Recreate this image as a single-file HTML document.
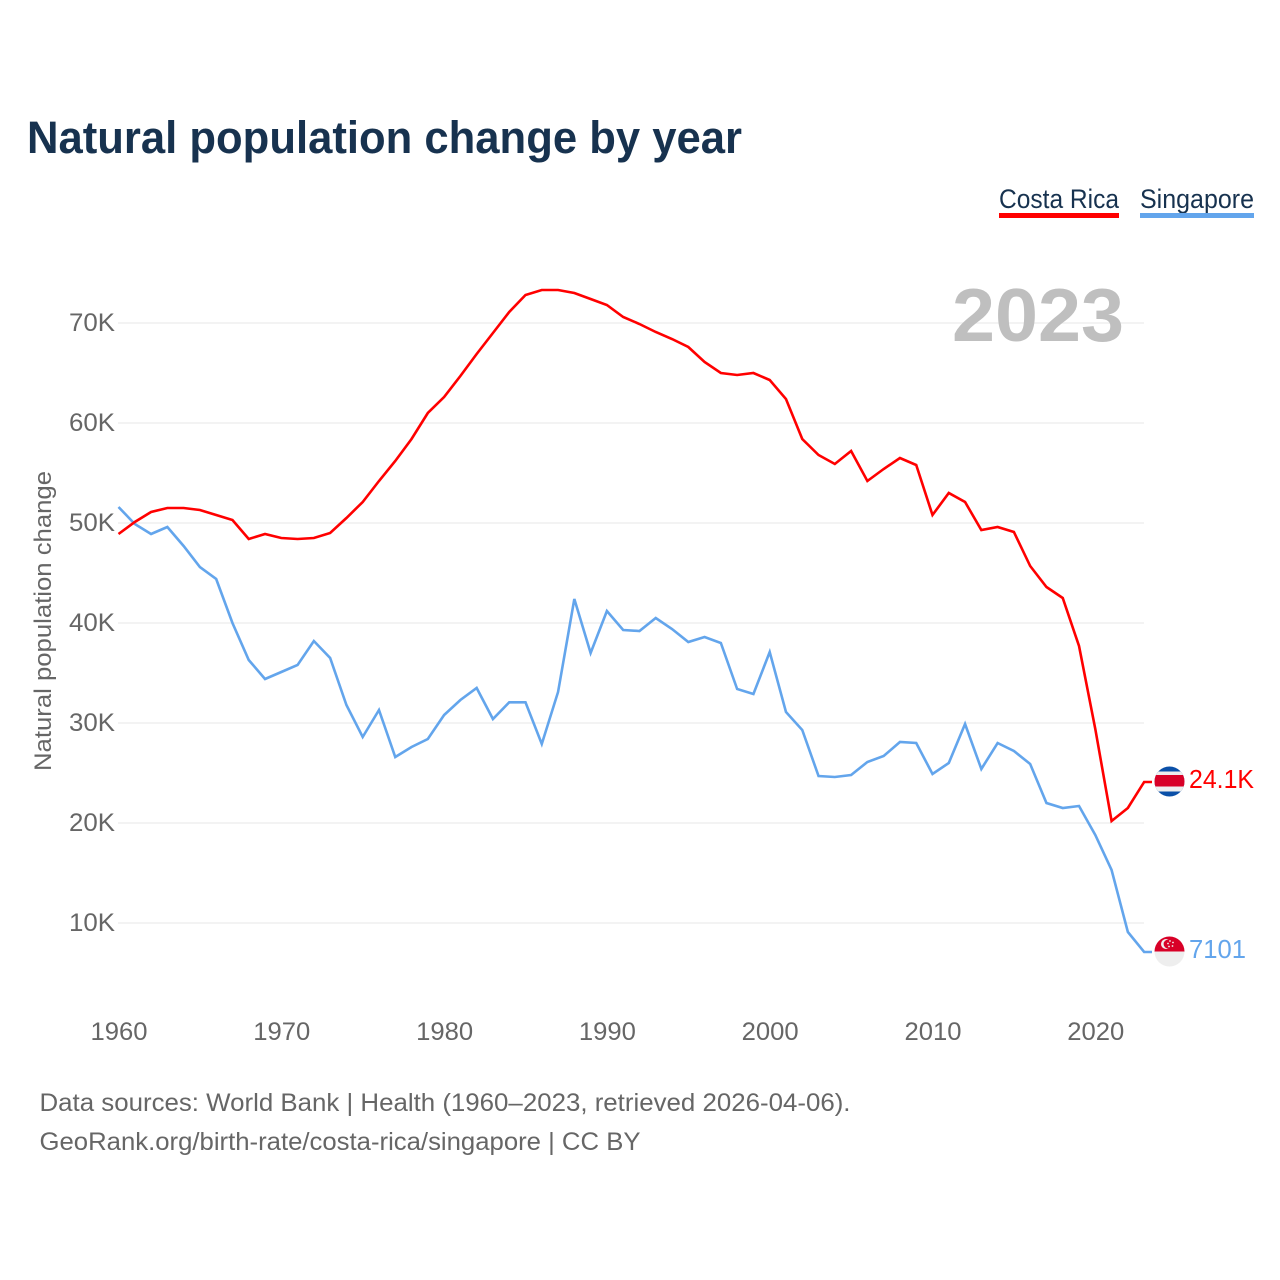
<!DOCTYPE html>
<html lang="en">
<head>
<meta charset="utf-8">
<title>Natural population change by year</title>
<style>
html,body{margin:0;padding:0;background:#fff;width:1280px;height:1280px;overflow:hidden}
svg{display:block;font-family:"Liberation Sans",sans-serif}
</style>
</head>
<body>
<svg id="chart" xmlns="http://www.w3.org/2000/svg" width="1280" height="1280" viewBox="0 0 1280 1280">
  <text x="27" y="153" font-size="45" font-weight="700" fill="#17324f" textLength="715" lengthAdjust="spacingAndGlyphs">Natural population change by year</text>

  <g>
    <text x="999" y="208" font-size="27" fill="#17324f" textLength="120" lengthAdjust="spacingAndGlyphs">Costa Rica</text>
    <rect x="999" y="213" width="120" height="5" fill="#ff0000"/>
    <text x="1140" y="208" font-size="27" fill="#17324f" textLength="114" lengthAdjust="spacingAndGlyphs">Singapore</text>
    <rect x="1140" y="213" width="114" height="5" fill="#63a5ec"/>
  </g>

  <g id="grid"></g>
  <text x="952" y="341" font-size="75" font-weight="700" fill="#bfbfbf" textLength="172" lengthAdjust="spacingAndGlyphs">2023</text>
  <g id="yticks"></g>
  <g id="xticks"></g>
  <text transform="translate(51,771) rotate(-90)" font-size="24" fill="#666666" textLength="300" lengthAdjust="spacingAndGlyphs">Natural population change</text>

  <path id="line-singapore" fill="none" stroke="#63a5ec" stroke-width="2.6" stroke-linejoin="miter"/>
  <path id="line-costa-rica" fill="none" stroke="#ff0000" stroke-width="2.6" stroke-linejoin="miter"/>

  <defs>
    <clipPath id="clip-cr"><circle cx="1169.5" cy="781.5" r="15"/></clipPath>
    <clipPath id="clip-sg"><circle cx="1169.5" cy="951.5" r="15"/></clipPath>
  </defs>

  <g clip-path="url(#clip-cr)">
    <rect x="1154" y="766" width="31" height="32" fill="#0b50a8"/>
    <rect x="1154" y="771.5" width="31" height="20" fill="#eeeeee"/>
    <rect x="1154" y="775" width="31" height="11.5" fill="#d80027"/>
  </g>
  <text id="value-cr" x="1189" y="788" font-size="26" fill="#ff0000" textLength="65" lengthAdjust="spacingAndGlyphs">24.1K</text>

  <g clip-path="url(#clip-sg)">
    <rect x="1154" y="936" width="31" height="16" fill="#d80027"/>
    <rect x="1154" y="951.5" width="31" height="16" fill="#eeeeee"/>
    <circle cx="1166" cy="944" r="5" fill="#eeeeee"/>
    <circle cx="1168" cy="944" r="4.4" fill="#d80027"/>
    <circle cx="1170" cy="941" r="0.9" fill="#eeeeee"/>
    <circle cx="1173" cy="942.5" r="0.9" fill="#eeeeee"/>
    <circle cx="1172.5" cy="946" r="0.9" fill="#eeeeee"/>
    <circle cx="1169" cy="946.5" r="0.9" fill="#eeeeee"/>
    <circle cx="1168" cy="943.5" r="0.9" fill="#eeeeee"/>
  </g>
  <text id="value-sg" x="1189" y="958" font-size="26" fill="#63a5ec" textLength="57" lengthAdjust="spacingAndGlyphs">7101</text>

  <text x="39.5" y="1111" font-size="25" fill="#666666" textLength="811" lengthAdjust="spacingAndGlyphs">Data sources: World Bank | Health (1960–2023, retrieved 2026-04-06).</text>
  <text x="39.5" y="1150" font-size="25" fill="#666666" textLength="601" lengthAdjust="spacingAndGlyphs">GeoRank.org/birth-rate/costa-rica/singapore | CC BY</text>
</svg>
<script>
const startYear = 1960;
const costaRica = [48.9,50.1,51.1,51.5,51.5,51.3,50.8,50.3,48.4,48.9,48.5,48.4,48.5,49.0,50.5,52.1,54.2,56.2,58.4,61.0,62.6,64.7,66.9,69.0,71.1,72.8,73.3,73.3,73.0,72.4,71.8,70.6,69.9,69.1,68.4,67.6,66.1,65.0,64.8,65.0,64.3,62.4,58.4,56.8,55.9,57.2,54.2,55.4,56.5,55.8,50.8,53.0,52.1,49.3,49.6,49.1,45.7,43.6,42.5,37.7,29.4,20.2,21.5,24.1];
const singapore = [51.6,49.9,48.9,49.6,47.7,45.6,44.4,40.0,36.3,34.4,35.1,35.8,38.2,36.5,31.8,28.6,31.3,26.6,27.6,28.4,30.8,32.3,33.5,30.4,32.07,32.07,27.9,33.1,42.4,37.0,41.2,39.3,39.2,40.5,39.4,38.1,38.6,38.0,33.4,32.9,37.1,31.1,29.3,24.7,24.6,24.8,26.1,26.7,28.1,28.0,24.9,26.0,29.9,25.4,28.0,27.2,25.9,22.0,21.5,21.7,18.8,15.3,9.1,7.101];
const yTickValues = [10,20,30,40,50,60,70];
const yTickLabels = ["10K","20K","30K","40K","50K","60K","70K"];
const xTickYears = [1960,1970,1980,1990,2000,2010,2020];

const NS = "http://www.w3.org/2000/svg";
const xScale = function (year) { return 118.5 + (year - 1960) * 16.28; };
const yScale = function (k) { return 1023 - k * 10; };

const grid = document.getElementById("grid");
const yticks = document.getElementById("yticks");
const xticks = document.getElementById("xticks");

yTickValues.forEach(function (v, i) {
  const y = yScale(v);
  const ln = document.createElementNS(NS, "line");
  
  
  ln.setAttribute("x1", 118);
  ln.setAttribute("x2", 1144);
  ln.setAttribute("y1", y);
  ln.setAttribute("y2", y);
  ln.setAttribute("stroke", "#ececec");
  ln.setAttribute("stroke-width", "1.3");
  grid.appendChild(ln);

  const t = document.createElementNS(NS, "text");
  
  
  t.setAttribute("x", 69);
  t.setAttribute("y", y + 8);
  t.setAttribute("font-size", "25");
  t.setAttribute("fill", "#666666");
  t.setAttribute("textLength", "46");
  t.setAttribute("lengthAdjust", "spacingAndGlyphs");
  t.textContent = yTickLabels[i];
  yticks.appendChild(t);
});

xTickYears.forEach(function (yr) {
  const t = document.createElementNS(NS, "text");
  
  
  t.setAttribute("x", xScale(yr) - 28);
  t.setAttribute("y", 1040);
  t.setAttribute("font-size", "25");
  t.setAttribute("fill", "#666666");
  t.setAttribute("textLength", "57");
  t.setAttribute("lengthAdjust", "spacingAndGlyphs");
  t.textContent = String(yr);
  xticks.appendChild(t);
});

function linePath(series) {
  let d = "";
  series.forEach(function (v, i) {
    d += (i ? "L" : "M") + xScale(startYear + i).toFixed(2) + " " + yScale(v).toFixed(2);
  });
  d += "H1152";
  return d;
}
document.getElementById("line-costa-rica").setAttribute("d", linePath(costaRica));
document.getElementById("line-singapore").setAttribute("d", linePath(singapore));
</script>
</body>
</html>
